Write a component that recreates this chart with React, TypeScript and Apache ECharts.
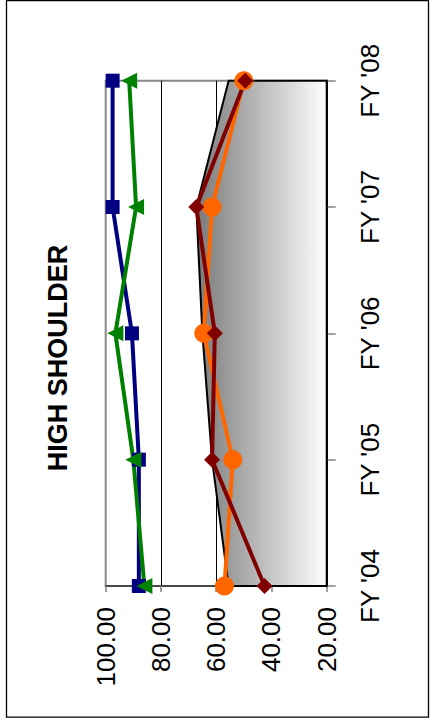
import React, { useEffect, useRef } from "react";
import * as echarts from "echarts";

const categories = ["FY '04", "FY '05", "FY '06", "FY '07", "FY '08"];
const blueVals = [88, 88, 90.5, 97.5, 97.5];
const greenVals = [86, 90, 96.5, 89, 91.5];
const orangeVals = [57, 54, 64.5, 61.5, 50];
const darkRedVals = [42.5, 61.5, 60.5, 67.2, 49.5];
const areaVals = [55.5, 61.5, 65, 67.2, 55.5];
const AXIS_MIN = 20;
const AXIS_MAX = 100;
const AXIS_STEP = 20;
const titleText = "HIGH SHOULDER";

const FONT = "'Liberation Sans', Arial, sans-serif";

export default function App() {
  const ref = useRef<HTMLDivElement>(null);
  useEffect(() => {
    if (!ref.current) return;
    const chart = echarts.init(ref.current, null, { renderer: "svg" });
    const gradient = new echarts.graphic.LinearGradient(0, 0, 1, 0, [
      { offset: 0, color: "#7a7a7a" },
      { offset: 1, color: "#ffffff" },
    ]);
    const pair = (vals: number[]) => vals.map((v, i) => [v, categories[i]]);
    chart.setOption({
      animation: false,
      backgroundColor: "#ffffff",
      grid: {
        left: 105.7,
        right: 106.3,
        top: 80.7,
        bottom: 135,
        show: true,
        backgroundColor: "#ffffff",
        borderColor: "#888888",
        borderWidth: 2,
      },
      xAxis: {
        type: "value",
        inverse: true,
        position: "bottom",
        min: AXIS_MIN,
        max: AXIS_MAX,
        interval: AXIS_STEP,
        axisLine: { show: true, lineStyle: { color: "#333333", width: 1.5 } },
        axisTick: { show: true, length: 6, lineStyle: { color: "#808080", width: 1.5 } },
        splitLine: {
          show: true,
          showMinLine: false,
          showMaxLine: false,
          lineStyle: { color: "#000000", width: 1 },
        },
        axisLabel: {
          rotate: 90,
          margin: 21,
          fontSize: 26,
          fontFamily: FONT,
          color: "#000000",
          formatter: (v: number) => v.toFixed(2),
        },
      },
      yAxis: {
        type: "category",
        position: "right",
        boundaryGap: false,
        data: categories,
        axisLine: { show: true, lineStyle: { color: "#000000", width: 2 } },
        axisTick: { show: true, length: 9, lineStyle: { color: "#808080", width: 1.5 } },
        splitLine: { show: false },
        axisLabel: {
          rotate: 90,
          margin: 30,
          fontSize: 26,
          fontFamily: FONT,
          color: "#000000",
        },
      },
      graphic: [
        {
          type: "rect",
          shape: { x: 6.5, y: 0.7, width: 422, height: 716.5 },
          style: { fill: "none", stroke: "#000000", lineWidth: 1.3 },
          silent: true,
        },
        {
          type: "text",
          x: 58,
          y: 358,
          rotation: Math.PI / 2,
          style: {
            text: titleText,
            align: "center",
            verticalAlign: "middle",
            font: `bold 27px ${FONT}`,
            fill: "#000000",
          },
        },
      ],
      series: [
        {
          type: "custom",
          data: areaVals.map((v, i) => [v, i]),
          encode: { x: 0, y: 1 },
          renderItem: (params: any, api: any) => {
            if (params.dataIndex !== 0) return null;
            const pts = areaVals.map((v, i) => api.coord([v, i]));
            pts.push(api.coord([AXIS_MIN, areaVals.length - 1]));
            pts.push(api.coord([AXIS_MIN, 0]));
            return {
              type: "polygon",
              shape: { points: pts },
              style: { fill: gradient, stroke: "#000000", lineWidth: 2 },
            };
          },
          silent: true,
        },
        {
          type: "line",
          data: pair(blueVals),
          symbol: "rect",
          symbolSize: 14,
          lineStyle: { color: "#000080", width: 4 },
          itemStyle: { color: "#000080", borderWidth: 0 },
        },
        {
          type: "line",
          data: pair(greenVals),
          symbol: "triangle",
          symbolSize: 16,
          symbolRotate: 90,
          lineStyle: { color: "#008000", width: 4 },
          itemStyle: { color: "#008000", borderWidth: 0 },
        },
        {
          type: "line",
          data: pair(orangeVals),
          symbol: "circle",
          symbolSize: 19,
          lineStyle: { color: "#FF6600", width: 4 },
          itemStyle: { color: "#FF6600", borderWidth: 0 },
        },
        {
          type: "line",
          data: pair(darkRedVals),
          symbol: "diamond",
          symbolSize: 16,
          lineStyle: { color: "#800000", width: 4 },
          itemStyle: { color: "#800000", borderWidth: 0 },
        },
      ],
    });
    return () => chart.dispose();
  }, []);
  return (
    <div
      ref={ref}
      style={{ position: "absolute", left: 0, top: 0, width: 433, height: 721 }}
    />
  );
}
